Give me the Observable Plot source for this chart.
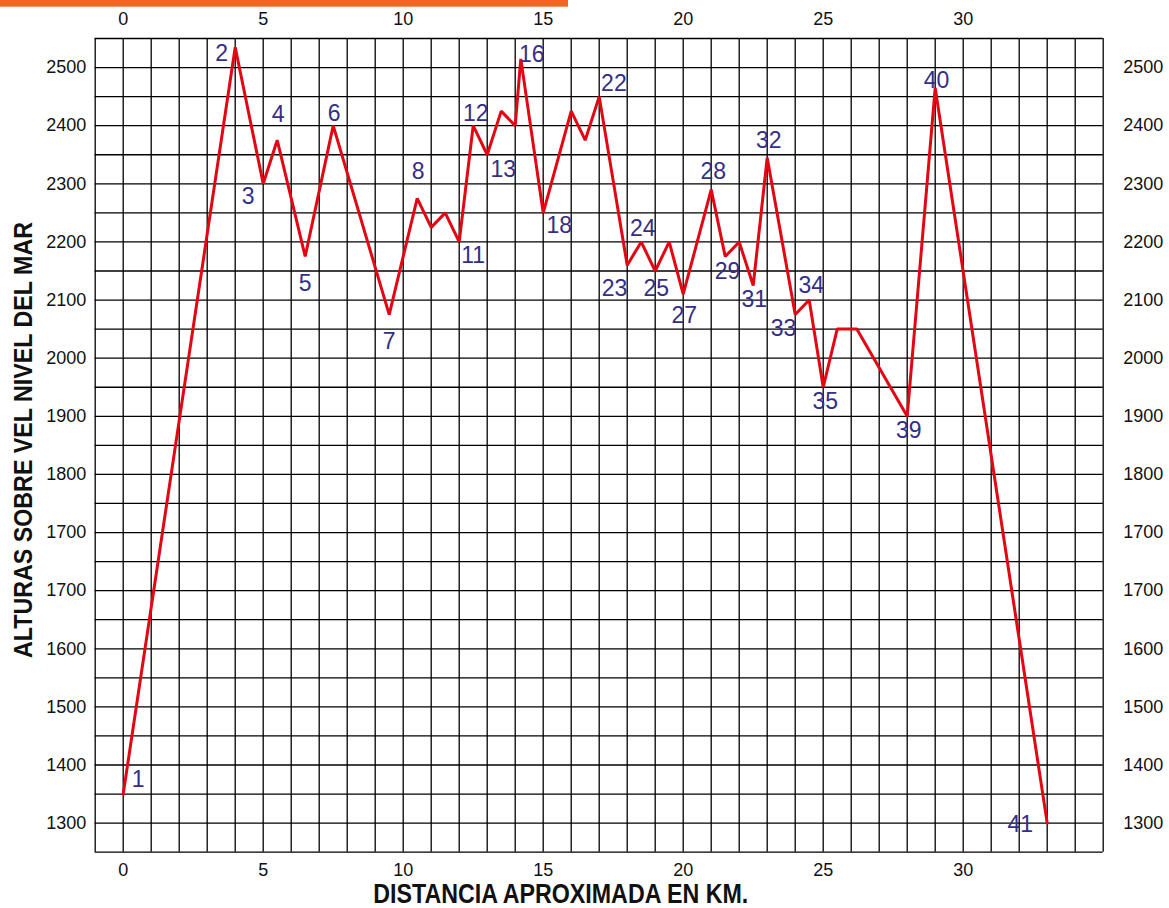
<!DOCTYPE html>
<html>
<head>
<meta charset="utf-8">
<script src="https://cdn.jsdelivr.net/npm/d3@7"></script>
<script src="https://cdn.jsdelivr.net/npm/@observablehq/plot@0.6"></script>
<style>
  html, body { margin: 0; padding: 0; background: #fff; }
  svg { display: block; }
</style>
</head>
<body>
<script>
// ---------- data ----------
const km = [0, 4, 5, 5.5, 6.5, 7.5, 9.5, 10.5, 11, 11.5, 12, 12.5, 13, 13.5, 14, 14.2, 15, 16, 16.5, 17,
            18, 18.5, 19, 19.5, 20, 21, 21.5, 22, 22.5, 23, 24, 24.5, 25, 25.5, 26.2, 28, 29, 33];
const altura = [1350, 2535, 2300, 2375, 2175, 2400, 2075, 2275, 2225, 2250, 2200, 2400, 2350, 2425, 2400, 2515, 2250, 2425, 2375, 2450,
                2160, 2200, 2150, 2200, 2110, 2290, 2175, 2200, 2125, 2345, 2075, 2100, 1950, 2050, 2050, 1900, 2465, 1300];
const puntos = ["1", "2", "3", "4", "5", "6", "7", "8", "", "", "11", "12", "13", "", "", "16", "18", "", "", "22",
                "23", "24", "25", "", "27", "28", "29", "", "31", "32", "33", "34", "35", "", "", "39", "40", "41"];
// label offsets (px) relative to each point
const labelOffsets = [[15,-14],[-13.5,6],[-15,13],[1,-26],[0,27],[1,-12],[0,27],[1,-27],null,null,[14,14],[2.5,-12],[16,14.5],null,null,[11,-4.5],[16,13],null,null,[14.7,-13],
                      [-12.7,23],[1.5,-13.5],[1,17.7],null,[1,21],[2,-18],[2.4,15],null,[1,14],[1.6,-16.7],[-11.7,14],[2,-14],[2,14.4],null,null,[1.6,14],[1.3,-7],[-27,1]];

const xTicks = [0, 5, 10, 15, 20, 25, 30];
const xGrid = [-1,0,1,2,3,4,5,6,7,8,9,10,11,12,13,14,15,16,17,18,19,20,21,22,23,24,25,26,27,28,29,30,31,32,33,34,35];
// the reference's vertical axis repeats the label "1700": below it every label sits one step lower
const yTickLabels = ["1300", "1400", "1500", "1600", "1700", "1700", "1800", "1900", "2000", "2100", "2200", "2300", "2400", "2500"];
const yTickPositions = [1200, 1300, 1400, 1500, 1600, 1700, 1800, 1900, 2000, 2100, 2200, 2300, 2400, 2500];
const yGrid = [1150,1200,1250,1300,1350,1400,1450,1500,1550,1600,1650,1700,1750,1800,1850,1900,1950,2000,2050,2100,2150,2200,2250,2300,2350,2400,2450,2500,2550];

const xTitle = "DISTANCIA APROXIMADA EN KM.";
const yTitle = "ALTURAS SOBRE VEL NIVEL DEL MAR";

(function () {
const W = 1169, H = 908;
const mTop = 38, mBottom = 56.3, mLeft = 94.7, mRight = 66.3;

// labelled altitude -> position on the drawn axis (which shows 1700 twice)
const toAxis = v => v >= 1800 ? v : v <= 1700 ? v - 100 : 1600 + (v - 1700) * 2;

const tickLabel = new Map(yTickPositions.map((v, i) => [v, yTickLabels[i]]));
const data = km.map((k, i) => ({km: k, alt: altura[i], pos: toAxis(altura[i]), label: puntos[i], off: labelOffsets[i]}));

const labelMarks = data.filter(d => d.label).map(d =>
  Plot.text([d], {x: "km", y: "pos", text: "label", dx: d.off[0], dy: d.off[1],
    fontSize: 23, fill: "#332e87", textAnchor: "middle", lineAnchor: "middle"}));

const chart = Plot.plot({
  width: W, height: H,
  marginTop: mTop, marginBottom: mBottom, marginLeft: mLeft, marginRight: mRight,
  style: {fontFamily: "'Liberation Sans', Arial, sans-serif", fontSize: "18px", background: "#fff", color: "#111"},
  x: {domain: [-1, 35], label: null},
  y: {domain: [1150, 2550], label: null},
  marks: [
    Plot.ruleX(xGrid, {stroke: "#000", strokeWidth: 1.3}),
    Plot.ruleY(yGrid, {stroke: "#000", strokeWidth: 1.3}),
    Plot.axisX(xTicks, {anchor: "top", tickSize: 0, tickPadding: 14, label: null}),
    Plot.axisX(xTicks, {anchor: "bottom", tickSize: 0, tickPadding: 11, label: null}),
    Plot.axisY(yTickPositions, {anchor: "left", tickSize: 0, tickPadding: 9, tickFormat: d => tickLabel.get(d), label: null}),
    Plot.axisY(yTickPositions, {anchor: "right", tickSize: 0, tickPadding: 20, tickFormat: d => tickLabel.get(d), label: null}),
    Plot.line(data, {x: "km", y: "pos", stroke: "#e30613", strokeWidth: 3, strokeLinejoin: "miter"}),
    ...labelMarks
  ]
});

document.body.appendChild(chart);

const svg = d3.select(chart);
svg.append("rect").attr("x", 0).attr("y", 0).attr("width", 568).attr("height", 6.7).attr("fill", "#f06522");
svg.append("text")
  .attr("transform", "translate(32,440) rotate(-90)")
  .attr("text-anchor", "middle")
  .attr("font-family", "'Liberation Sans', Arial, sans-serif")
  .attr("font-weight", "bold").attr("font-size", 25).attr("fill", "#111")
  .attr("textLength", 436).attr("lengthAdjust", "spacingAndGlyphs")
  .text(yTitle);
svg.append("text")
  .attr("x", 560.8).attr("y", 903.3)
  .attr("text-anchor", "middle")
  .attr("font-family", "'Liberation Sans', Arial, sans-serif")
  .attr("font-weight", "bold").attr("font-size", 27).attr("fill", "#111")
  .attr("textLength", 375).attr("lengthAdjust", "spacingAndGlyphs")
  .text(xTitle);
})();
</script>
</body>
</html>
